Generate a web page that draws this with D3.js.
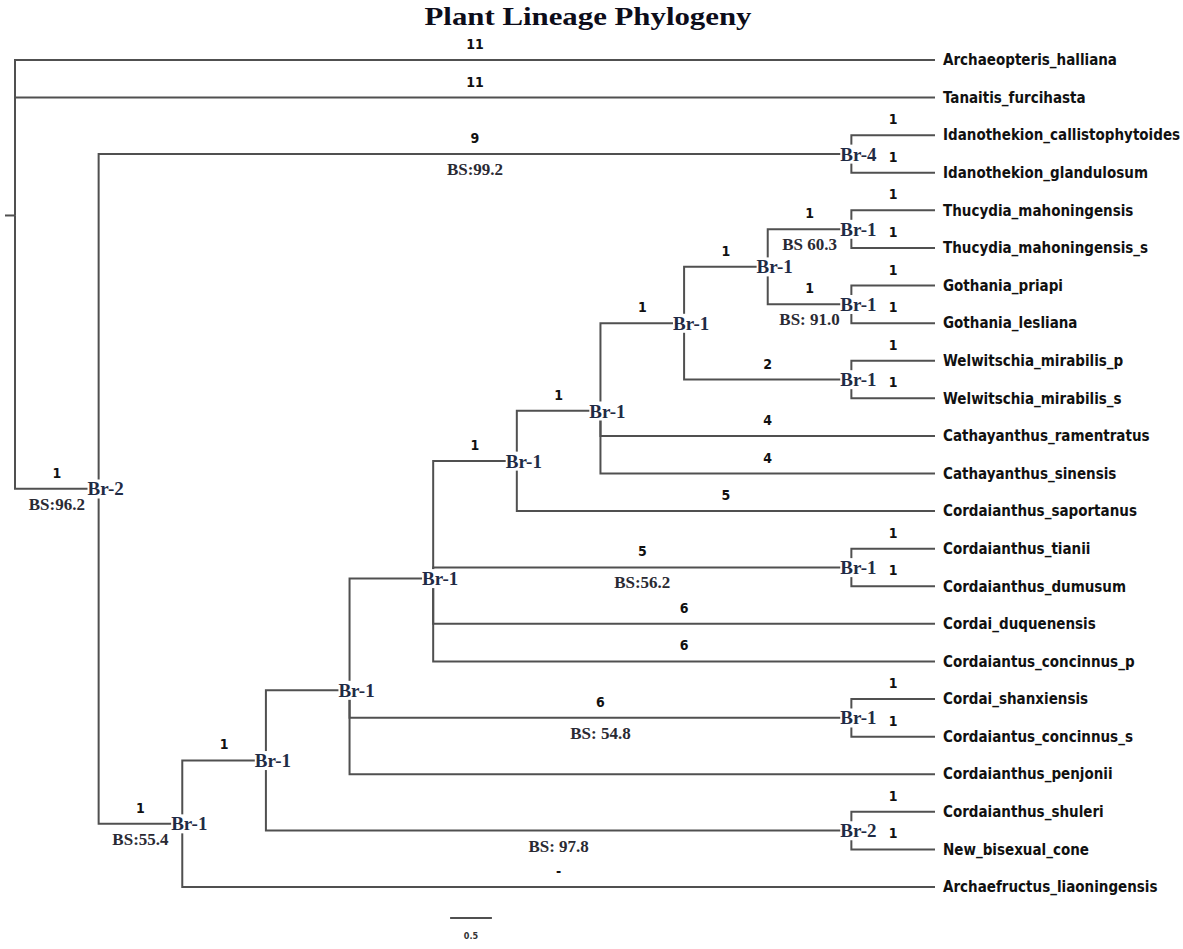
<!DOCTYPE html>
<html lang="en">
<head>
<meta charset="utf-8">
<title>Plant Lineage Phylogeny</title>
<script src="https://d3js.org/d3.v7.min.js"></script>
<style>
  body { margin: 0; background: #fff; }
  .link { fill: none; stroke: #505050; stroke-width: 2px; }
  .leaf { font-family: "DejaVu Sans Condensed", "DejaVu Sans", sans-serif; font-stretch: condensed; font-weight: bold; font-size: 15px; fill: #111; }
  .step { font-family: "DejaVu Sans Condensed", "DejaVu Sans", sans-serif; font-stretch: condensed; font-weight: bold; font-size: 14px; fill: #111; }
  .br { font-family: "Liberation Serif", "Times New Roman", serif; font-weight: bold; font-size: 19px; fill: #1f2b45; }
  .bs { font-family: "Liberation Serif", "Times New Roman", serif; font-weight: bold; font-size: 17px; fill: #2a2a33; }
  .title { font-family: "Liberation Serif", "Times New Roman", serif; font-weight: bold; font-size: 26px; fill: #0d0d1a; }
  .scale { font-family: "DejaVu Sans Condensed", sans-serif; font-size: 9px; font-weight: bold; fill: #333; }
</style>
</head>
<body>
<svg id="chart" width="1183" height="949"></svg>
<script>
let w = 1183;
let h = 949;

// terminal taxa, top to bottom
const leafNames = [
  "Archaeopteris_halliana", "Tanaitis_furcihasta",
  "Idanothekion_callistophytoides", "Idanothekion_glandulosum",
  "Thucydia_mahoningensis", "Thucydia_mahoningensis_s",
  "Gothania_priapi", "Gothania_lesliana",
  "Welwitschia_mirabilis_p", "Welwitschia_mirabilis_s",
  "Cathayanthus_ramentratus", "Cathayanthus_sinensis",
  "Cordaianthus_saportanus",
  "Cordaianthus_tianii", "Cordaianthus_dumusum",
  "Cordai_duquenensis", "Cordaiantus_concinnus_p",
  "Cordai_shanxiensis", "Cordaiantus_concinnus_s",
  "Cordaianthus_penjonii",
  "Cordaianthus_shuleri", "New_bisexual_cone",
  "Archaefructus_liaoningensis"
];
const leafParents = [
  "root", "root", "br4", "br4", "thu", "thu", "got", "got", "wel", "wel",
  "nF", "nF", "nE", "tia", "tia", "nD", "nD", "sha", "sha", "nC",
  "shu", "shu", "nA"
];
const leafSteps = [
  "11", "11", "1", "1", "1", "1", "1", "1", "1", "1",
  "4", "4", "5", "1", "1", "6", "6", "1", "1", "",
  "1", "1", "-"
];

// internal nodes
const nodeIds     = ["root", "n2", "br4", "nA", "nB", "nC", "nD", "nE", "nF", "nG", "nH", "thu", "got", "wel", "tia", "sha", "shu"];
const nodeParents = [null, "root", "n2", "n2", "nA", "nB", "nC", "nD", "nE", "nF", "nG", "nH", "nH", "nG", "nD", "nC", "nB"];
const nodeBr      = ["", "Br-2", "Br-4", "Br-1", "Br-1", "Br-1", "Br-1", "Br-1", "Br-1", "Br-1", "Br-1", "Br-1", "Br-1", "Br-1", "Br-1", "Br-1", "Br-2"];
const nodeSteps   = ["", "1", "9", "1", "1", "", "", "1", "1", "1", "1", "1", "1", "2", "5", "6", ""];
const nodeBS      = ["", "BS:96.2", "BS:99.2", "BS:55.4", "", "", "", "", "", "", "", "BS 60.3", "BS: 91.0", "", "BS:56.2", "BS: 54.8", "BS: 97.8"];

const scaleBarValue = 0.5;

let rows = nodeIds.map((id, i) => ({ id: id, parent: nodeParents[i], br: nodeBr[i], step: nodeSteps[i], bs: nodeBS[i] }))
  .concat(leafNames.map((id, i) => ({ id: id, parent: leafParents[i], br: "", step: leafSteps[i], bs: "" })));

let root = d3.stratify().id(d => d.id).parentId(d => d.parent)(rows);
root.eachAfter(n => n.rank = n.children ? d3.min(n.children, c => c.rank) : leafNames.indexOf(n.id));
root.sort((a, b) => a.rank - b.rank);

d3.cluster().size([leafNames.length, root.height]).separation(() => 1)(root);

let leaves = root.leaves();
let y = d3.scaleLinear().domain(d3.extent(leaves, d => d.x)).range([60, 887]);
let x = d3.scaleLinear().domain([0, root.height]).range([15, 935]);

let svg = d3.select("#chart");

svg.append("text")
  .attr("class", "title")
  .attr("x", 588)
  .attr("y", 25)
  .attr("text-anchor", "middle")
  .attr("textLength", 327)
  .attr("lengthAdjust", "spacingAndGlyphs")
  .text("Plant Lineage Phylogeny");

let g = svg.append("g");

// root stub
g.append("path")
  .attr("class", "link")
  .attr("d", "M" + (x(0) - 10) + "," + y(root.x) + "H" + x(0));

g.selectAll("path.branch")
  .data(root.descendants().slice(1))
  .join("path")
  .attr("class", "link branch")
  .attr("d", d => "M" + x(d.parent.y) + "," + y(d.parent.x) + "V" + y(d.x) + "H" + x(d.y));

// branch step counts above each branch
g.selectAll("text.step")
  .data(root.descendants().filter(d => d.data.step))
  .join("text")
  .attr("class", "step")
  .attr("x", d => (x(d.parent.y) + x(d.y)) / 2)
  .attr("y", d => y(d.x) - 11)
  .attr("text-anchor", "middle")
  .text(d => d.data.step);

// bootstrap values below
g.selectAll("text.bs")
  .data(root.descendants().filter(d => d.data.bs))
  .join("text")
  .attr("class", "bs")
  .attr("x", d => (x(d.parent.y) + x(d.y)) / 2)
  .attr("y", d => y(d.x) + 21)
  .attr("text-anchor", "middle")
  .text(d => d.data.bs);

// node labels with a white box so the lines break around them
let br = g.selectAll("g.brnode")
  .data(root.descendants().filter(d => d.data.br))
  .join("g")
  .attr("class", "brnode")
  .attr("transform", d => "translate(" + (x(d.y) + 7) + "," + y(d.x) + ")");

br.append("text")
  .attr("class", "br")
  .attr("text-anchor", "middle")
  .attr("dy", "0.35em")
  .text(d => d.data.br);

br.each(function() {
  let t = d3.select(this).select("text");
  let b = t.node().getBBox();
  d3.select(this).insert("rect", "text")
    .attr("x", b.x)
    .attr("y", b.y + 1)
    .attr("width", b.width)
    .attr("height", b.height - 2)
    .attr("fill", "#fff");
});

g.selectAll("text.leaf")
  .data(leaves)
  .join("text")
  .attr("class", "leaf")
  .attr("x", d => x(d.y) + 8)
  .attr("y", d => y(d.x))
  .attr("dy", "0.35em")
  .text(d => d.id);

// scale bar
let sbLen = x(scaleBarValue) - x(0);
let sbMid = 471;
svg.append("line")
  .attr("x1", sbMid - sbLen / 2)
  .attr("x2", sbMid + sbLen / 2)
  .attr("y1", 918)
  .attr("y2", 918)
  .attr("stroke", "#505050")
  .attr("stroke-width", 2);
svg.append("text")
  .attr("class", "scale")
  .attr("x", sbMid)
  .attr("y", 939)
  .attr("text-anchor", "middle")
  .text(scaleBarValue);
</script>
</body>
</html>
